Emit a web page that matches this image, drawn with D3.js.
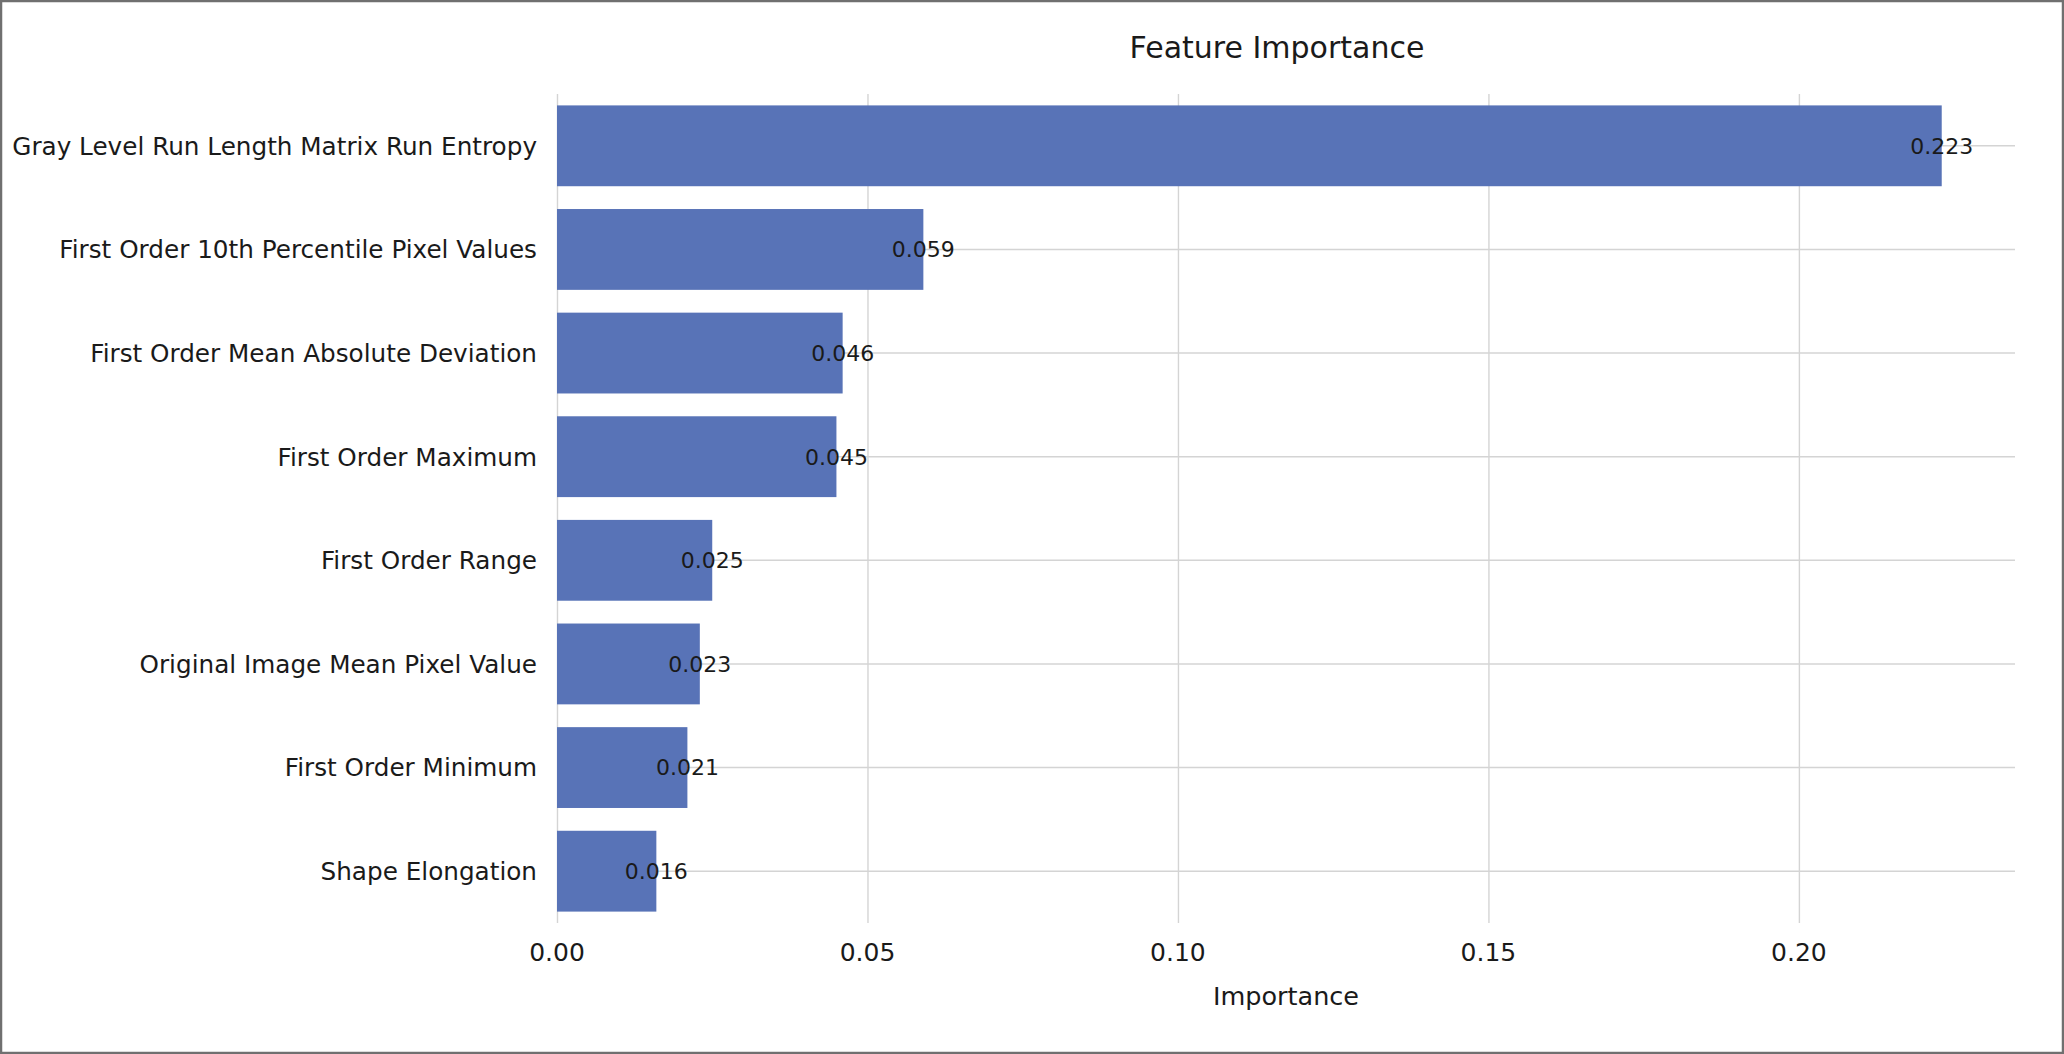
<!DOCTYPE html>
<html lang="en">
<head>
    <meta charset="UTF-8">
    <title>Feature Importance</title>
</head>
<style>
    body {
        margin: 0;
        background: white;
    }
    svg text {
        font-family: "DejaVu Sans", sans-serif;
        fill: #1a1a1a;
    }
    .grid line {
        stroke: #d4d4d4;
        stroke-width: 1.4;
    }
    .grid .domain {
        display: none;
    }
</style>
<script src="https://d3js.org/d3.v7.min.js"></script>

<body>
    <div id="chart"></div>
</body>

<script>
    const features = [
        "Gray Level Run Length Matrix Run Entropy",
        "First Order 10th Percentile Pixel Values",
        "First Order Mean Absolute Deviation",
        "First Order Maximum",
        "First Order Range",
        "Original Image Mean Pixel Value",
        "First Order Minimum",
        "Shape Elongation"
    ]
    const importances = [0.223, 0.059, 0.046, 0.045, 0.025, 0.023, 0.021, 0.016]
    const xTicks = [0, 0.05, 0.10, 0.15, 0.20]

    const W = 2064, H = 1054
    const plot = {left: 557, right: 2015, top: 94, bottom: 923}

    const svg = d3.select("#chart")
        .append("svg")
          .attr("width", W)
          .attr("height", H)

    svg.append("rect")
        .attr("x", 1).attr("y", 1)
        .attr("width", W - 2).attr("height", H - 2)
        .attr("fill", "white")
        .attr("stroke", "#707070")
        .attr("stroke-width", 2.5)

    const x = d3.scaleLinear()
        .domain([0, 0.2348])
        .range([plot.left, plot.right])
    const y = d3.scaleBand()
        .domain(features)
        .range([plot.top, plot.bottom])
        .paddingInner(0.22)
        .paddingOuter(0.11)

    // vertical grid
    svg.append("g")
        .attr("class", "grid")
        .attr("transform", `translate(0, ${plot.bottom})`)
        .call(d3.axisBottom(x)
            .tickValues(xTicks)
            .tickSize(-(plot.bottom - plot.top))
            .tickFormat(""))
    // horizontal grid through bar centres (axisLeft puts band ticks at centre)
    svg.append("g")
        .attr("class", "grid")
        .attr("transform", `translate(${plot.left}, 0)`)
        .call(d3.axisLeft(y)
            .tickSize(-(plot.right - plot.left))
            .tickFormat(""))

    svg.append("g")
        .selectAll("rect")
        .data(importances)
        .join("rect")
          .attr("x", x(0))
          .attr("y", (d, i) => y(features[i]))
          .attr("width", d => x(d) - x(0))
          .attr("height", y.bandwidth())
          .attr("fill", "#5873b7")

    // value labels centred on bar end
    svg.append("g")
        .selectAll("text")
        .data(importances)
        .join("text")
          .attr("x", d => x(d))
          .attr("y", (d, i) => y(features[i]) + y.bandwidth() / 2)
          .attr("dy", "0.36em")
          .attr("text-anchor", "middle")
          .attr("font-size", 22)
          .text(d => d3.format(".3f")(d))

    // y labels
    svg.append("g")
        .selectAll("text")
        .data(features)
        .join("text")
          .attr("x", plot.left - 20)
          .attr("y", d => y(d) + y.bandwidth() / 2)
          .attr("dy", "0.36em")
          .attr("text-anchor", "end")
          .attr("font-size", 24.7)
          .text(d => d)

    // x tick labels
    svg.append("g")
        .selectAll("text")
        .data(xTicks)
        .join("text")
          .attr("x", d => x(d))
          .attr("y", 961)
          .attr("text-anchor", "middle")
          .attr("font-size", 25)
          .text(d => d3.format(".2f")(d))

    svg.append("text")
        .attr("x", (plot.left + plot.right) / 2)
        .attr("y", 1005)
        .attr("text-anchor", "middle")
        .attr("font-size", 25.5)
        .text("Importance")

    svg.append("text")
        .attr("x", 1277)
        .attr("y", 58)
        .attr("text-anchor", "middle")
        .attr("font-size", 30)
        .text("Feature Importance")
</script>
</html>
